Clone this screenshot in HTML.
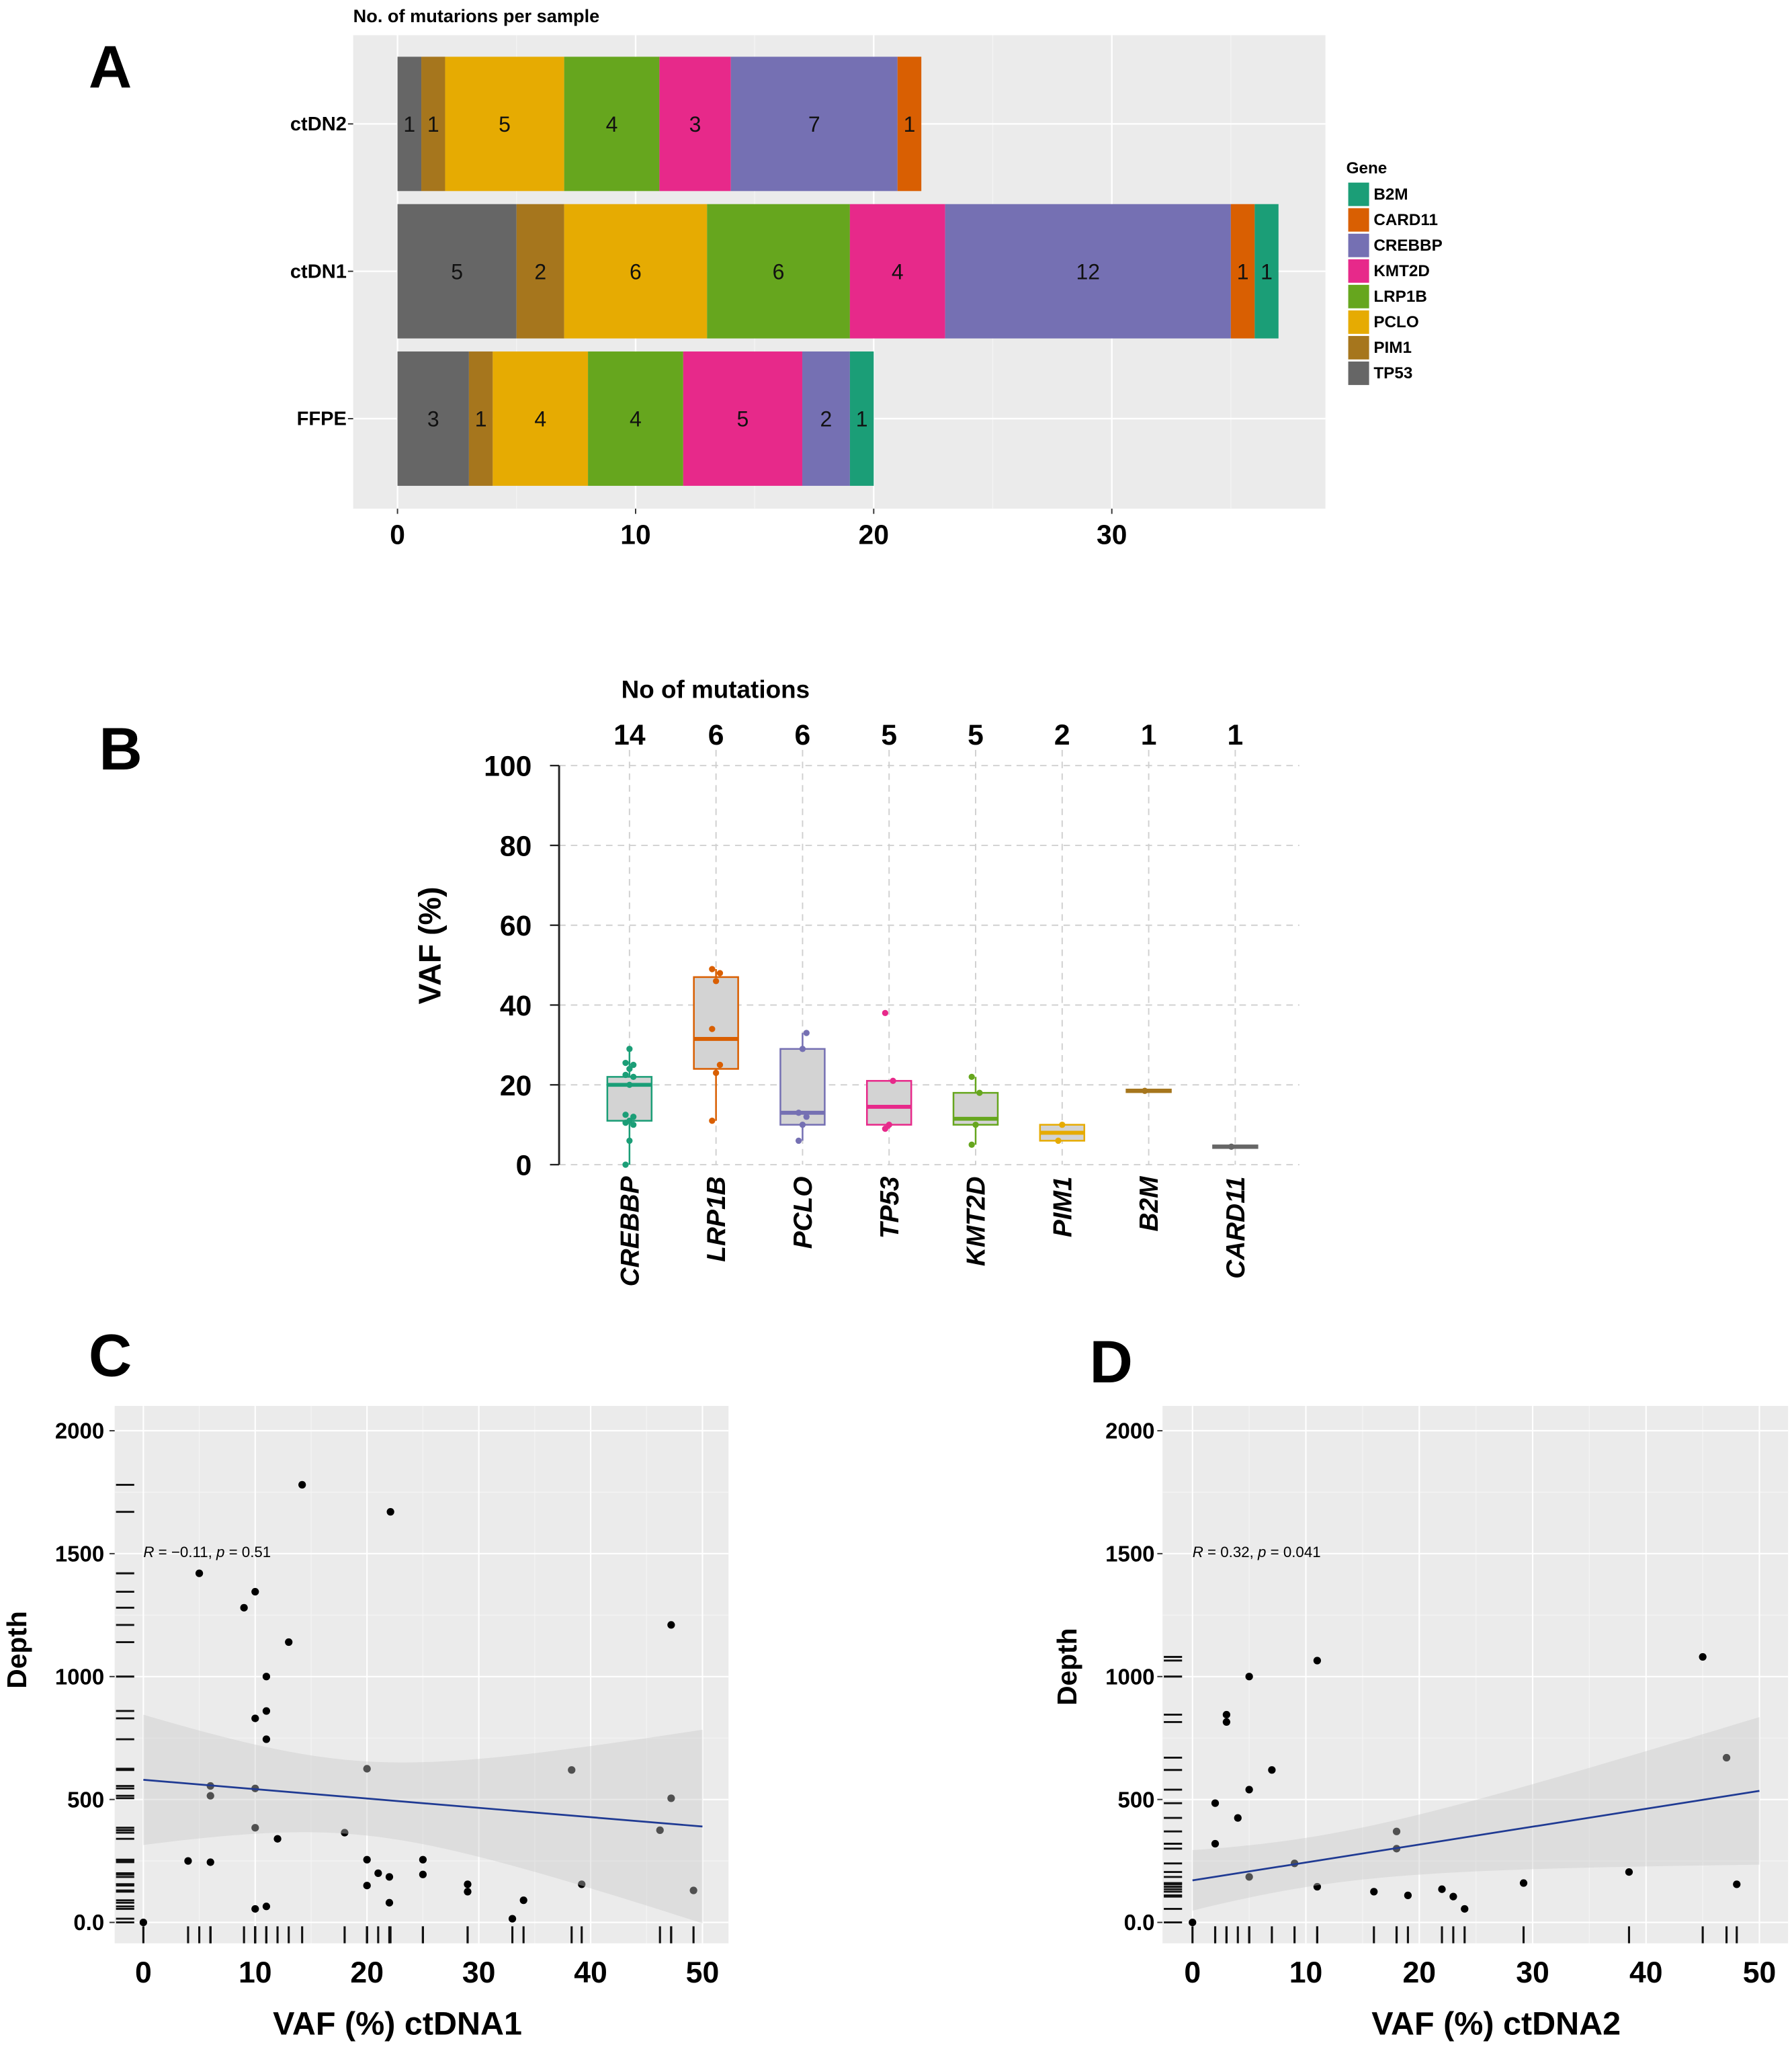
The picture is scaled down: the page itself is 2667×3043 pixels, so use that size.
<!DOCTYPE html>
<html><head><meta charset="utf-8"><style>
html,body{margin:0;padding:0;background:#fff;}
svg{display:block;font-family:"Liberation Sans",Arial,sans-serif;}
</style></head><body>
<svg id="fig" width="2667" height="3043" viewBox="0 0 1375 1568" preserveAspectRatio="none" xmlns="http://www.w3.org/2000/svg"></svg>
<script>
// ---------- Panel A data ----------
const samplesA = ["ctDN2","ctDN1","FFPE"];
const genesA = ["TP53","PIM1","PCLO","LRP1B","KMT2D","CREBBP","CARD11","B2M"];
const countsCtDN2 = [1,1,5,4,3,7,1,0];
const countsCtDN1 = [5,2,6,6,4,12,1,1];
const countsFFPE = [3,1,4,4,5,2,0,1];
const ticksA = [0,10,20,30];
const legendGenes = ["B2M","CARD11","CREBBP","KMT2D","LRP1B","PCLO","PIM1","TP53"];
// ---------- Panel B data ----------
const genesB = ["CREBBP","LRP1B","PCLO","TP53","KMT2D","PIM1","B2M","CARD11"];
const nMut = [14,6,6,5,5,2,1,1];
const q1B = [11,24,10,10,10,6,18.5,4.5];
const medB = [20,31.5,13,14.5,11.5,8,18.5,4.5];
const q3B = [22,47,29,21,18,10,18.5,4.5];
const wLoB = [0,11,6,9,5,6,18.5,4.5];
const wHiB = [29,49,33,21,22,10,18.5,4.5];
const ptsB = [[0,6,10,10.5,11,12,12.5,20,22,22.5,24,25,25.5,29],[11,23,25,34,46,48,49],[6,10,12,13,29,33],[9,10,21,38],[5,10,18,22],[6,10],[18.5],[4.5]];
const ticksB = [0,20,40,60,80,100];
// ---------- Panel C data ----------
const vafC = [14.2,22.1,5,10,9,47.2,13,11,11,10,11,20,38.3,6,10,6,47.2,10,46.2,18,12,4,6,20,25,21,25,22,20,29,39.2,29,49.2,34,22,11,10,33,0];
const depthC = [1780,1670,1420,1345,1280,1210,1140,1000,860,830,745,625,620,555,545,515,505,385,375,365,340,250,245,255,255,200,195,185,150,155,155,125,130,90,80,65,55,15,0];
const fitC = [580,390];
// ---------- Panel D data ----------
const vafD = [11,45,5,3,3,7,47.1,5,2,4,18,2,18,9,5,38.5,11,29.2,48,16,22,19,23,24,0];
const depthD = [1065,1080,1000,845,815,620,670,540,485,425,370,320,300,240,185,205,145,160,155,125,135,110,105,55,0];
const fitD = [171,535];
const ticksXCD = [0,10,20,30,40,50];
const ticksYCD = [0,500,1000,1500,2000];
const tickYLabels = ["0.0","500","1000","1500","2000"];

const colors = {TP53:"#666666",PIM1:"#A6761D",PCLO:"#E6AB02",LRP1B:"#66A61E",KMT2D:"#E7298A",CREBBP:"#7570B3",CARD11:"#D95F02",B2M:"#1B9E77"};
const NS="http://www.w3.org/2000/svg";
const svg=document.getElementById('fig');
function mk(tag,attrs,parent,text){const e=document.createElementNS(NS,tag);for(const k in attrs)e.setAttribute(k,attrs[k]);if(text!==undefined)e.textContent=text;(parent||svg).appendChild(e);return e;}
function grp(name){const g=mk('g',{});return g;}

// ================= PANEL A =================
(function(){
  const g=grp('panel-a');
  const t=mk('text',{x:68,y:67,'font-size':46,'font-weight':'bold'},g,'A');
  
  const tt=mk('text',{x:271,y:17,'font-size':14,'font-weight':'bold'},g,'No. of mutarions per sample');
  
  const bg=mk('rect',{x:271,y:27,width:746,height:363,fill:'#EBEBEB'},g);
  
  const x=v=>305+v*18.27;
  [5,15,25,35].forEach(v=>{const l=mk('line',{x1:x(v),x2:x(v),y1:27,y2:390,stroke:'#F5F5F5','stroke-width':0.6},g);});
  ticksA.forEach(v=>{const l=mk('line',{x1:x(v),x2:x(v),y1:27,y2:390,stroke:'#fff','stroke-width':1.2},g);
    const tk=mk('line',{x1:x(v),x2:x(v),y1:390,y2:394,stroke:'#333'},g);
    const lb=mk('text',{x:x(v),y:417,'font-size':21,'font-weight':'bold','text-anchor':'middle'},g,String(v));});
  const rows=[countsCtDN2,countsCtDN1,countsFFPE];
  const yc=[95,208,321];
  rows.forEach((cnt,ri)=>{
    const gl=mk('line',{x1:271,x2:1017,y1:yc[ri],y2:yc[ri],stroke:'#fff','stroke-width':1.2},g);
    const lb=mk('text',{x:266,y:yc[ri]+5,'font-size':15,'font-weight':'bold','text-anchor':'end'},g,samplesA[ri]);
    const tk=mk('line',{x1:267,x2:271,y1:yc[ri],y2:yc[ri],stroke:'#333'},g);
    let cum=0;
    cnt.forEach((c,gi)=>{ if(c>0){
      const r=mk('rect',{x:x(cum),y:yc[ri]-51.5,width:x(cum+c)-x(cum),height:103,fill:colors[genesA[gi]]},g);
      
      const tl=mk('text',{x:(x(cum)+x(cum+c))/2,y:yc[ri]+6,'font-size':16.5,'text-anchor':'middle',fill:'#111'},g,String(c));
      
      cum+=c;}});
  });
  const lt=mk('text',{x:1033,y:133,'font-size':12.5,'font-weight':'bold'},g,'Gene');
  legendGenes.forEach((n,i)=>{
    const sw=mk('rect',{x:1034.5,y:140+i*19.6,width:16,height:18,fill:colors[n]},g);
    const tx=mk('text',{x:1054,y:153+i*19.6,'font-size':12.5,'font-weight':'bold'},g,n);
  });
})();

// ================= PANEL B =================
(function(){
  const g=grp('panel-b');
  const cB={CREBBP:"#1B9E77",LRP1B:"#D95F02",PCLO:"#7570B3",TP53:"#E7298A",KMT2D:"#66A61E",PIM1:"#E6AB02",B2M:"#A6761D",CARD11:"#666666"};
  const t=mk('text',{x:76,y:590,'font-size':46,'font-weight':'bold'},g,'B');
  const y=v=>893-v*3.06;
  const x=i=>483+i*66.4;
  const tt=mk('text',{x:549,y:535,'font-size':19,'font-weight':'bold','text-anchor':'middle'},g,'No of mutations');
  ticksB.forEach(v=>{
    const l=mk('line',{x1:429,x2:997,y1:y(v),y2:y(v),stroke:'#d0d0d0','stroke-dasharray':'5,4','stroke-width':1},g);
    const tk=mk('line',{x1:422,x2:429,y1:y(v),y2:y(v),stroke:'#222','stroke-width':1.2},g);
    const lb=mk('text',{x:408,y:y(v)+8,'font-size':22,'font-weight':'bold','text-anchor':'end'},g,String(v));
  });
  const ax=mk('line',{x1:429,x2:429,y1:y(100),y2:y(0),stroke:'#222','stroke-width':1.5},g);
  const yt=mk('text',{x:0,y:0,'font-size':24,'font-weight':'bold','text-anchor':'middle',transform:'translate(338,725) rotate(-90)'},g,'VAF (%)');
  genesB.forEach((n,i)=>{
    const col=cB[n];
    const vl=mk('line',{x1:x(i),x2:x(i),y1:575,y2:y(0),stroke:'#d0d0d0','stroke-dasharray':'5,4'},g);
    const cnt=mk('text',{x:x(i),y:571,'font-size':22,'font-weight':'bold','text-anchor':'middle'},g,String(nMut[i]));
    const wl=mk('line',{x1:x(i),x2:x(i),y1:y(wHiB[i]),y2:y(wLoB[i]),stroke:col,'stroke-width':1.3},g);
    const hh=Math.max(y(q1B[i])-y(q3B[i]),2);
    const bx=mk('rect',{x:x(i)-17,y:y(q3B[i])-(hh<=2?1:0),width:34,height:hh,fill:'#D3D3D3',stroke:col,'stroke-width':1.3},g);
    const md=mk('line',{x1:x(i)-17,x2:x(i)+17,y1:y(medB[i]),y2:y(medB[i]),stroke:col,'stroke-width':3},g);
    ptsB[i].forEach((v,j)=>{const c=mk('circle',{cx:x(i)+((j%3)-1)*3,cy:y(v),r:2.4,fill:col},g);});
    const lb=mk('text',{x:0,y:0,'font-size':20,'font-weight':'bold','font-style':'italic','text-anchor':'end',transform:`translate(${x(i)+7},902) rotate(-90)`},g,n);
  });
})();

// ================= PANELS C & D =================
function scatter(opt){
  const g=grp(opt.name);
  const {x0,x50,bgx1,bgx2,vaf,dep,fit,xm,h0,k}=opt;
  const x=v=>x0+v*(x50-x0)/50;
  const y=v=>1474-v*0.1885;
  const L=mk('text',{x:opt.lx,y:opt.ly,'font-size':46,'font-weight':'bold'},g,opt.letter);
  const bg=mk('rect',{x:bgx1,y:1078,width:bgx2-bgx1,height:412,fill:'#EBEBEB'},g);
  [250,750,1250,1750].forEach(v=>{const l=mk('line',{x1:bgx1,x2:bgx2,y1:y(v),y2:y(v),stroke:'#F5F5F5','stroke-width':0.6},g);});
  [5,15,25,35,45].forEach(v=>{const l=mk('line',{x1:x(v),x2:x(v),y1:1078,y2:1490,stroke:'#F5F5F5','stroke-width':0.6},g);});
  ticksYCD.forEach((v,i)=>{
    const l=mk('line',{x1:bgx1,x2:bgx2,y1:y(v),y2:y(v),stroke:'#fff','stroke-width':1.1},g);
    const tk=mk('line',{x1:bgx1-4,x2:bgx1,y1:y(v),y2:y(v),stroke:'#333'},g);
    const lb=mk('text',{x:opt.ylx,y:y(v)+6,'font-size':17,'font-weight':'bold','text-anchor':'end'},g,tickYLabels[i]);
  });
  ticksXCD.forEach(v=>{
    const l=mk('line',{x1:x(v),x2:x(v),y1:1078,y2:1490,stroke:'#fff','stroke-width':1.1},g);
    const lb=mk('text',{x:x(v),y:1520,'font-size':23,'font-weight':'bold','text-anchor':'middle'},g,String(v));
  });
  // rugs
  vaf.forEach(v=>{const r=mk('line',{x1:x(v),x2:x(v),y1:1477,y2:1490,stroke:'#111','stroke-width':1.6},g);});
  dep.forEach(v=>{const r=mk('line',{x1:bgx1+1,x2:bgx1+15,y1:y(v),y2:y(v),stroke:'#111','stroke-width':1.5},g);});
  // points
  vaf.forEach((v,i)=>{const c=mk('circle',{cx:x(v),cy:y(dep[i]),r:2.9,fill:'#000'},g);});
  // ribbon
  const line=v=>fit[0]+(fit[1]-fit[0])*v/50;
  const hw=v=>Math.sqrt(h0*h0+k*(v-xm)*(v-xm));
  let up=[],lo=[];
  for(let v=0;v<=50.001;v+=1){up.push(x(v)+','+y(line(v)+hw(v)));lo.unshift(x(v)+','+y(line(v)-hw(v)));}
  const rb=mk('polygon',{points:up.concat(lo).join(' '),fill:'#c8c8c8','fill-opacity':0.4},g);
  const fl=mk('line',{x1:x(0),x2:x(50),y1:y(fit[0]),y2:y(fit[1]),stroke:'#1f3a93','stroke-width':1.4},g);
  const an=mk('text',{x:x(0),y:1194,'font-size':11.5},g);
  an.innerHTML=opt.anno;
  const xt=mk('text',{x:opt.xtx,y:1560,'font-size':25,'font-weight':'bold','text-anchor':'middle'},g,opt.xtitle);
  const yt=mk('text',{x:0,y:0,'font-size':21,'font-weight':'bold','text-anchor':'middle',transform:`translate(${opt.ytx},${opt.yty}) rotate(-90)`},g,'Depth');
}
scatter({name:'panel-c',letter:'C',lx:68,ly:1055,x0:110,x50:539,bgx1:88,bgx2:559,vaf:vafC,dep:depthC,fit:fitC,xm:18.75,h0:150,k:135.7,ylx:80,
  anno:'<tspan font-style="italic">R</tspan> = −0.11, <tspan font-style="italic">p</tspan> = 0.51',xtitle:'VAF (%) ctDNA1',xtx:305,ytx:20,yty:1265});
scatter({name:'panel-d',letter:'D',lx:836,ly:1060,x0:915,x50:1350,bgx1:892,bgx2:1372,vaf:vafD,dep:depthD,fit:fitD,xm:10.1,h0:100,k:50.3,ylx:886,
  anno:'<tspan font-style="italic">R</tspan> = 0.32, <tspan font-style="italic">p</tspan> = 0.041',xtitle:'VAF (%) ctDNA2',xtx:1148,ytx:826,yty:1278});
</script>
</body></html>
